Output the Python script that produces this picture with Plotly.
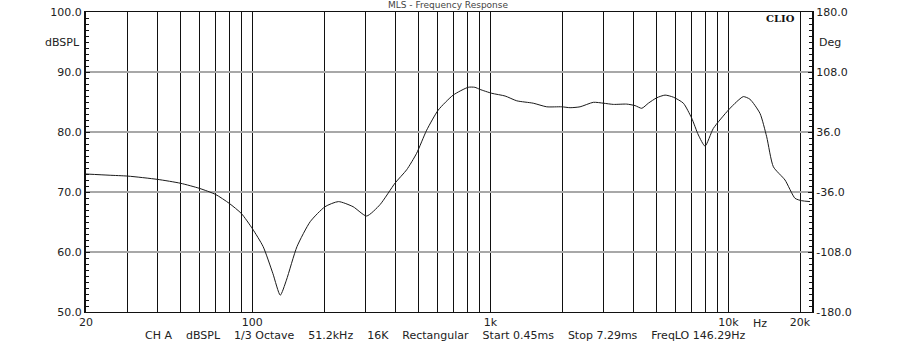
import plotly.graph_objects as go
import math

# Frequency response data
freq_hz = [20, 25, 30, 40, 50, 60, 70, 80, 90, 100, 111, 122, 131, 139, 154, 175,
           202, 230, 265, 302, 344, 398, 445, 490, 540, 604, 698, 807, 861, 904,
           1014, 1153, 1291, 1514, 1725, 1995, 2163, 2382, 2710, 2986, 3289, 3742,
           4055, 4327, 4613, 5000, 5420, 5876, 6471, 7015, 7482, 7980, 8650, 10000,
           10840, 11560, 12330, 13580, 14490, 15460, 17300, 19060, 20330, 22040]
spl_db = [73.0, 72.8, 72.65, 72.1, 71.45, 70.6, 69.6, 68.1, 66.4, 63.9, 60.9, 56.4,
          52.8, 55.3, 60.9, 65.05, 67.55, 68.4, 67.55, 66.0, 67.9, 71.5, 73.7, 76.45,
          80.3, 83.65, 86.15, 87.45, 87.45, 87.1, 86.45, 86.0, 85.2, 84.8, 84.2, 84.2,
          84.05, 84.2, 84.95, 84.8, 84.6, 84.65, 84.4, 83.95, 84.8, 85.7, 86.15, 85.8,
          84.8, 82.3, 79.5, 77.65, 80.6, 83.65, 85.05, 85.9, 85.45, 83.1, 79.2, 74.2,
          72.0, 68.95, 68.55, 68.4]

grid_freqs = [20, 30, 40, 50, 60, 70, 80, 90,
              100, 200, 300, 400, 500, 600, 700, 800, 900,
              1000, 2000, 3000, 4000, 5000, 6000, 7000, 8000, 9000,
              10000, 20000]
freq_labels = {20: "20", 100: "100", 1000: "1k", 10000: "10k", 20000: "20k"}

db_ticks = [50, 60, 70, 80, 90, 100]
db_labels = ["50.0", "60.0", "70.0", "80.0", "90.0", "100.0"]
deg_ticks = [-180, -108, -36, 36, 108, 180]
deg_labels = ["-180.0", "-108.0", "-36.0", "36.0", "108.0", "180.0"]

caption_items = ["CH A", "dBSPL", "1/3 Octave", "51.2kHz", "16K", "Rectangular",
                 "Start 0.45ms", "Stop 7.29ms", "FreqLO 146.29Hz"]

FONT = "DejaVu Sans, Liberation Sans, sans-serif"
FS = 11
TXT = "#222"

fig = go.Figure()
fig.add_trace(go.Scatter(x=freq_hz, y=spl_db, mode="lines",
                         line=dict(color="#1a1a1a", width=1, shape="spline", smoothing=0.6),
                         hoverinfo="skip", showlegend=False))
fig.add_trace(go.Scatter(x=[], y=[], yaxis="y2", showlegend=False, hoverinfo="skip"))

xr0 = math.log10(20)
xr1 = xr0 + 726 / 238

fig.update_layout(
    width=913, height=343,
    margin=dict(l=86, r=101, t=12, b=31, pad=0, autoexpand=False),
    paper_bgcolor="white", plot_bgcolor="white",
    font=dict(family=FONT, size=FS, color=TXT),
    xaxis=dict(type="log", range=[xr0, xr1], automargin=False,
               tickmode="array", tickvals=grid_freqs,
               ticktext=[freq_labels.get(f, "") for f in grid_freqs],
               showgrid=True, gridcolor="#111", gridwidth=1,
               showline=True, linecolor="#111", linewidth=1, mirror=True,
               ticks="", zeroline=False, tickfont=dict(size=FS, color=TXT)),
    yaxis=dict(range=[50, 100], automargin=False, tickmode="array", tickvals=db_ticks,
               ticktext=db_labels,
               showgrid=True, gridcolor="#a8a8a8", gridwidth=2,
               showline=True, linecolor="#111", linewidth=2, mirror=True,
               ticks="inside", ticklen=4, tickcolor="#111",
               minor=dict(dtick=1, ticks="inside", ticklen=3, tickcolor="#111", showgrid=False),
               zeroline=False, tickfont=dict(size=FS, color=TXT)),
    yaxis2=dict(range=[-180, 180], automargin=False, overlaying="y", side="right",
                tickmode="array", tickvals=deg_ticks, ticktext=deg_labels,
                showgrid=False, showline=True, linecolor="#111", linewidth=2,
                ticks="inside", ticklen=4, tickcolor="#111",
                minor=dict(dtick=7.2, tick0=-180, ticks="inside", ticklen=3, tickcolor="#111"),
                zeroline=False, tickfont=dict(size=FS, color=TXT)),
)

fig.add_annotation(text="dBSPL", xref="paper", yref="paper", x=0, y=1, xanchor="right",
                   yanchor="middle", xshift=-4, yshift=-30, showarrow=False,
                   font=dict(size=FS, color=TXT))
fig.add_annotation(text="Deg", xref="paper", yref="paper", x=1, y=1, xanchor="left",
                   yanchor="middle", xshift=5, yshift=-30, showarrow=False,
                   font=dict(size=FS, color=TXT))
fig.add_annotation(text="<b>CLIO</b>", xref="paper", yref="paper", x=1, y=1, xanchor="right",
                   yanchor="middle", xshift=-15, yshift=-6, showarrow=False,
                   font=dict(size=10, color="#111", family="DejaVu Serif, serif"))
fig.add_annotation(text="MLS - Frequency Response", xref="paper", yref="paper", x=(448 - 86) / 726,
                   y=1, xanchor="center", yanchor="middle", yshift=7, showarrow=False,
                   font=dict(size=9, color="#444"))
fig.add_annotation(text="Hz", xref="x", yref="paper", x=math.log10(13580), y=0,
                   xanchor="center", yanchor="middle", yshift=-11, showarrow=False,
                   font=dict(size=FS, color=TXT))
caption = "\u00a0\u00a0\u00a0\u00a0".join(s.replace(" ", "\u00a0") for s in caption_items)
fig.add_annotation(text=caption, xref="paper", yref="paper",
                   x=(143 - 86) / 726, y=0, xanchor="left", yanchor="middle",
                   yshift=-23, showarrow=False, font=dict(size=FS, color=TXT))

fig.write_html("out.html")
